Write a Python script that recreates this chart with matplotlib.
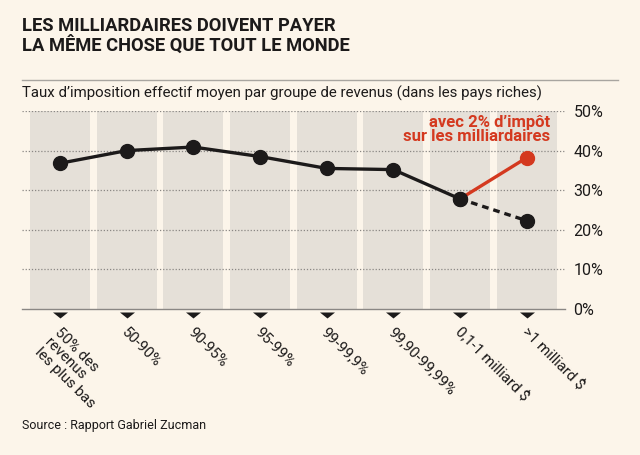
import matplotlib
matplotlib.use('Agg')
import matplotlib.pyplot as plt
import matplotlib.lines as mlines

# data (% effective tax rate)
groups = ["50% des\nrevenus\nles plus bas", "50-90%", "90-95%", "95-99%",
          "99-99,9%", "99,90-99,99%", "0,1-1 milliard $", ">1 milliard $"]
taux = [36.8, 40.0, 40.9, 38.5, 35.5, 35.2, 27.8]
taux_actuel_milliard = 22.3
taux_avec_impot = 38.2
yticks = [0, 10, 20, 30, 40, 50]

BG = '#fcf5ea'
COL = '#e5e0d8'
INK = '#1c1a1a'
RED = '#d4391f'

plt.rcParams['font.family'] = ['Roboto', 'DejaVu Sans']

fig = plt.figure(figsize=(6.4, 4.55), dpi=100, facecolor=BG)
ax = fig.add_axes([22/640, 1 - 309/455, (565 - 22)/640, (309 - 111)/455])
ax.set_facecolor(BG)

n = len(groups)
xs = list(range(n))

# grey columns
ax.bar(xs, [50]*n, width=0.9, color=COL, zorder=0)

# dotted gridlines
for t in yticks[1:]:
    ax.axhline(t, color='#8a8784', lw=0.9, ls=(0, (1, 1.5)), zorder=1)

# black line for the existing rates
ax.plot(xs[:-1], taux, color=INK, lw=2.4, marker='o', ms=10, zorder=3)
ax.plot([xs[-2], xs[-1]], [taux[-1], taux_actuel_milliard], color=INK, lw=2.4,
        ls=(0, (2, 1.5)), zorder=2)
ax.plot([xs[-1]], [taux_actuel_milliard], color=INK, marker='o', ms=10, zorder=3)
ax.plot([xs[-2], xs[-1]], [taux[-1], taux_avec_impot], color=RED, lw=2.4, zorder=2)
ax.plot([xs[-1]], [taux_avec_impot], color=RED, marker='o', ms=10, zorder=3)
ax.plot([xs[-2]], [taux[-1]], color=INK, marker='o', ms=10, zorder=4)

ax.text(7.35, 45.4, "avec 2% d\u2019imp\u00f4t\nsur les milliardaires", color=RED,
        fontsize=12, fontweight='bold', ha='right', va='center', linespacing=0.95)

ax.set_xlim(-0.57, 7.575)
ax.set_ylim(0, 50)

ax.yaxis.tick_right()
ax.set_yticks(yticks)
ax.set_yticklabels([f"{t}%" for t in yticks])
ax.tick_params(axis='y', length=0, pad=6, labelsize=11.5, labelcolor=INK)
ax.set_xticks([])
for s in ['top', 'left', 'right']:
    ax.spines[s].set_visible(False)
ax.spines['bottom'].set_color('#8a8784')
ax.spines['bottom'].set_linewidth(1.0)

# flat triangles and rotated labels below the axis
tri = [(-1, 0.4), (1, 0.4), (0, -0.4), (-1, 0.4)]
ax.plot(xs, [-1.5]*n, ls='none', marker=tri, color=INK, mec='none', ms=10.8,
        clip_on=False)
for x, g in zip(xs, groups):
    ax.text(x + 0.03, -4.0, g, rotation=-45, rotation_mode='anchor', ha='left',
            va='top', fontsize=10.8, color=INK, multialignment='left',
            linespacing=1.0, clip_on=False)

fig.text(22/640, 1 - 36/455, "LES MILLIARDAIRES DOIVENT PAYER\nLA M\u00caME CHOSE QUE TOUT LE MONDE",
         fontsize=13.2, fontweight='bold', color=INK, ha='left', va='center',
         linespacing=1.05)
fig.add_artist(mlines.Line2D([22/640, 618/640], [1 - 80/455, 1 - 80/455],
                             color='#a8a5a0', lw=1.0))
fig.text(22/640, 1 - 93/455,
         "Taux d\u2019imposition effectif moyen par groupe de revenus (dans les pays riches)",
         fontsize=10.85, color=INK, ha='left', va='center')
fig.text(22/640, 1 - 425/455, "Source : Rapport Gabriel Zucman", fontsize=9,
         color=INK, ha='left', va='center')

fig.savefig('out.png', dpi=100, facecolor=BG)
